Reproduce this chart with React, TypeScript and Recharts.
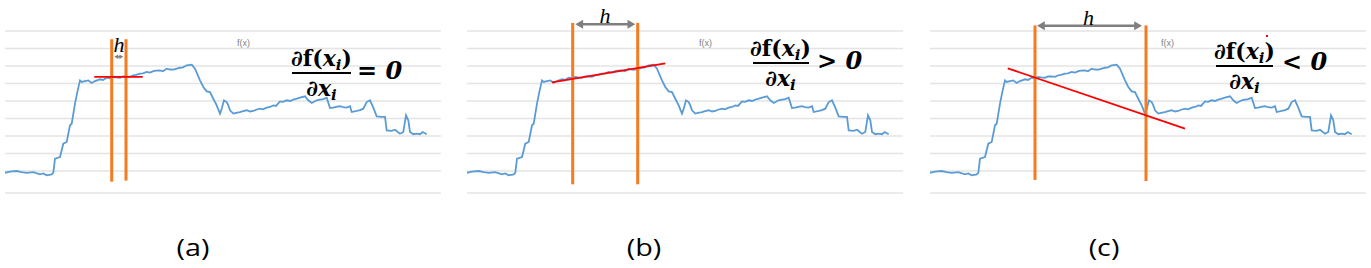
import React from 'react';
import { LineChart, Line, XAxis, YAxis, CartesianGrid, ReferenceLine } from 'recharts';

// signal samples (same curve in every panel)
const SAMPLE_X = [
  0, 5, 11.7, 16.7, 21.7, 28.3, 35, 38.3, 41.7, 46.7, 48.3, 50, 55, 58.3, 61.7, 65, 66.7, 70, 72.3, 75,
  76.7, 80, 83.3, 86.7, 90, 95, 98, 101.7, 105, 108.3, 111, 115, 118, 121.7, 125, 128.3, 131, 135, 138,
  141.7, 145, 148.3, 151, 155, 158, 161.7, 165, 168.3, 171, 175, 178, 181.7, 186.7, 190, 195, 198.3,
  201.7, 205, 208.3, 211.7, 215, 216.7, 219, 221.7, 223.3, 225, 228.3, 231, 235, 238, 241.7, 245, 248.3,
  251, 255, 258, 261.7, 265, 268.3, 271, 275, 278, 281.7, 285, 288.3, 291, 295, 300, 303.3, 306.7, 311.7,
  315, 318.3, 321.7, 325, 328.3, 331, 335, 338, 341.7, 345, 346.7, 351.7, 355, 358.3, 361.7, 365, 368.3,
  371.7, 376.7, 380, 381.7, 386.7, 390, 395, 398.3, 401, 403.3, 405, 408.3, 412, 415, 417.7, 421.7,
];
const SIGNAL = [
  9.0, 9.6, 10.0, 9.4, 8.9, 9.4, 8.1, 8.6, 7.5, 8.1, 9.0, 17.0, 18.0, 25.6, 26.6, 36.1, 37.0, 48.5, 55.1, 61.8,
  60.9, 61.4, 61.8, 60.3, 61.4, 62.4, 62.0, 63.3, 63.0, 63.7, 63.5, 63.3, 64.0, 64.1, 63.8, 64.7, 64.9, 65.6, 65.8,
  66.6, 66.2, 67.1, 67.3, 67.5, 67.0, 68.5, 68.0, 67.9, 68.4, 69.0, 69.2, 70.4, 70.8, 68.5, 61.8, 58.0,
  55.5, 55.1, 51.3, 47.5, 42.8, 45.6, 50.4, 49.4, 47.5, 44.7, 42.8, 43.2, 43.7, 44.2, 44.7, 44.0, 44.3,
  45.0, 45.6, 45.2, 46.2, 46.6, 47.5, 47.2, 49.8, 49.5, 50.4, 50.0, 50.8, 51.2, 51.9, 52.7, 50.4, 48.9, 50.4,
  50.8, 51.1, 51.9, 46.0, 46.2, 46.6, 47.0, 46.5, 46.2, 47.0, 43.7, 44.3, 44.8, 45.6, 49.4, 50.4, 46.2,
  41.2, 40.9, 40.9, 33.2, 32.9, 33.6, 31.3, 32.3, 41.8, 39.0, 32.3, 31.0, 31.4, 31.0, 32.3, 31.0,
];
const GRID_VALUES = [-2.5, 10, 20, 30, 40, 50, 60, 70, 80, 90];
const Y_DOMAIN = [-5, 100];

// per-panel annotations, in the chart's own units
const PANEL_LABELS = ['(a)', '(b)', '(c)'];
const RELATIONS = ['=', '>', '<'];
const WIN_LEFT_X = [106.7, 105.7, 105];
const WIN_RIGHT_X = [121, 170.7, 216];
const WIN_TOP = [85.3, 94.6, 93.2];
const WIN_BOTTOM_L = [3.9, 2.4, 4.9];
const WIN_BOTTOM_R = [4.5, 2.4, 4.3];
const TANGENT_X1 = [89.3, 85, 77.7];
const TANGENT_Y1 = [63.8, 60.7, 68.7];
const TANGENT_X2 = [137.7, 198.3, 255];
const TANGENT_Y2 = [63.8, 71.5, 34.2];
const ARROW_X1 = [109.3, 108.3, 107];
const ARROW_X2 = [118.3, 168.3, 212];
const ARROW_Y = [75.3, 93.8, 93];

const data = SAMPLE_X.map((x, i) => ({ x, v: SIGNAL[i] }));

// page layout (pixels)
const LAYOUT = [
  { left: 0, labelX: 193.3, hX: 119, hBase: 52, fxLeft: 237, barLeft: 292, barW: 59, barY: 71.7, relLeft: 357, relY: 71.5, head: 3 },
  { left: 461.7, labelX: 643.8, hX: 605, hBase: 23, fxLeft: 699, barLeft: 752.5, barW: 56, barY: 62.3, relLeft: 817, relY: 61.5, head: 6 },
  { left: 925, labelX: 1104, hX: 1088.5, hBase: 25, fxLeft: 1161, barLeft: 1216, barW: 57, barY: 64.5, relLeft: 1282, relY: 62.5, head: 6 },
];

const ORANGE = '#F47B20';

// only the listed gridlines
const gridRows = (p: any) => {
  const s = p?.yAxis?.scale;
  if (typeof s === 'function') return GRID_VALUES.map((v) => s(v));
  if (s && typeof s.map === 'function') return GRID_VALUES.map((v) => s.map(v));
  const top = p?.offset?.top ?? 13.5;
  const h = p?.offset?.height ?? 183.75;
  return GRID_VALUES.map((v) => top + ((Y_DOMAIN[1] - v) / (Y_DOMAIN[1] - Y_DOMAIN[0])) * h);
};

const makeArrow = (head: number) => (p: any) => {
  const { x1, y1, x2 } = p;
  const y = y1;
  const w = head * 0.75;
  return (
    <g>
      <line x1={x1 + head} y1={y} x2={x2 - head} y2={y} stroke="#7F7F7F" strokeWidth={head > 4 ? 2.5 : 1.5} />
      <polygon points={`${x1},${y} ${x1 + head * 1.3},${y - w} ${x1 + head * 1.3},${y + w}`} fill="#7F7F7F" />
      <polygon points={`${x2},${y} ${x2 - head * 1.3},${y - w} ${x2 - head * 1.3},${y + w}`} fill="#7F7F7F" />
    </g>
  );
};

const Xi = () => (
  <span style={{ fontStyle: 'italic' }}>
    x<span style={{ fontSize: 15, position: 'relative', top: 4 }}>i</span>
  </span>
);

const Panel = ({ i }: { i: number }) => {
  const L = LAYOUT[i];
  return (
    <>
      <div style={{ position: 'absolute', left: L.left, top: 0 }}>
        <LineChart width={460} height={210} data={data} margin={{ top: 13.5, right: 19, bottom: 12.75, left: 5 }}>
          <CartesianGrid vertical={false} stroke="#E4E4E4" strokeWidth={1.5} horizontalCoordinatesGenerator={gridRows} />
          <XAxis type="number" dataKey="x" domain={[0, 436]} hide allowDataOverflow />
          <YAxis type="number" domain={Y_DOMAIN} ticks={GRID_VALUES} interval={0} hide allowDataOverflow />
          <Line type="linear" dataKey="v" stroke="#5B9BD5" strokeWidth={1.8} dot={false} isAnimationActive={false} />
          <ReferenceLine
            segment={[{ x: WIN_LEFT_X[i], y: WIN_BOTTOM_L[i] }, { x: WIN_LEFT_X[i], y: WIN_TOP[i] }]}
            stroke={ORANGE}
            strokeWidth={3}
          />
          <ReferenceLine
            segment={[{ x: WIN_RIGHT_X[i], y: WIN_BOTTOM_R[i] }, { x: WIN_RIGHT_X[i], y: WIN_TOP[i] }]}
            stroke={ORANGE}
            strokeWidth={3}
          />
          <ReferenceLine
            segment={[{ x: TANGENT_X1[i], y: TANGENT_Y1[i] }, { x: TANGENT_X2[i], y: TANGENT_Y2[i] }]}
            stroke="#FF0000"
            strokeWidth={1.8}
          />
          <ReferenceLine
            segment={[{ x: ARROW_X1[i], y: ARROW_Y[i] }, { x: ARROW_X2[i], y: ARROW_Y[i] }]}
            shape={makeArrow(L.head)}
          />
        </LineChart>
      </div>

      {/* h label */}
      <span
        style={{
          position: 'absolute', left: L.hX, top: L.hBase - 18.4, transform: 'translateX(-50%)',
          fontFamily: '"Liberation Serif"', fontStyle: 'italic', fontSize: 22, lineHeight: '22px', color: '#000',
        }}
      >
        h
      </span>

      {/* f(x) series title */}
      <span
        style={{
          position: 'absolute', left: L.fxLeft, top: 38, fontFamily: '"Liberation Sans"', fontSize: 9,
          lineHeight: '10px', color: '#7F7F7F',
        }}
      >
        f(x)
      </span>

      {/* derivative fraction */}
      <div
        style={{
          position: 'absolute', left: L.barLeft, top: L.barY - 26, width: L.barW,
          fontFamily: '"DejaVu Serif"', fontWeight: 'bold', fontSize: 22, color: '#000',
        }}
      >
        <div style={{ height: 24, lineHeight: '24px', display: 'flex', justifyContent: 'center', whiteSpace: 'nowrap' }}>
          ∂f(<Xi />)
        </div>
        <div style={{ height: 2, background: '#000', margin: '2px 0' }} />
        <div style={{ height: 24, lineHeight: '24px', display: 'flex', justifyContent: 'center', whiteSpace: 'nowrap' }}>
          ∂<Xi />
        </div>
      </div>
      <span
        style={{
          position: 'absolute', left: L.relLeft, top: L.relY - 12.3, fontFamily: '"DejaVu Serif"', fontWeight: 'bold',
          fontSize: 24, lineHeight: '24px', color: '#000', whiteSpace: 'nowrap',
        }}
      >
        {RELATIONS[i]} <span style={{ fontStyle: 'italic' }}>0</span>
      </span>

      {/* panel caption */}
      <span
        style={{
          position: 'absolute', left: L.labelX, top: 235.5, transform: 'translateX(-50%) scaleX(1.25)',
          fontFamily: '"Open Sans"', fontSize: 23, lineHeight: '23px', color: '#000', whiteSpace: 'nowrap',
        }}
      >
        {PANEL_LABELS[i]}
      </span>
    </>
  );
};

export default function App() {
  return (
    <div style={{ position: 'absolute', left: 0, top: 0, width: 1371, height: 268, background: '#fff', overflow: 'hidden' }}>
      {[0, 1, 2].map((i) => (
        <Panel key={i} i={i} />
      ))}
      <span style={{ position: 'absolute', left: 1266, top: 35, width: 2, height: 2, background: '#FF0000' }} />
    </div>
  );
}
